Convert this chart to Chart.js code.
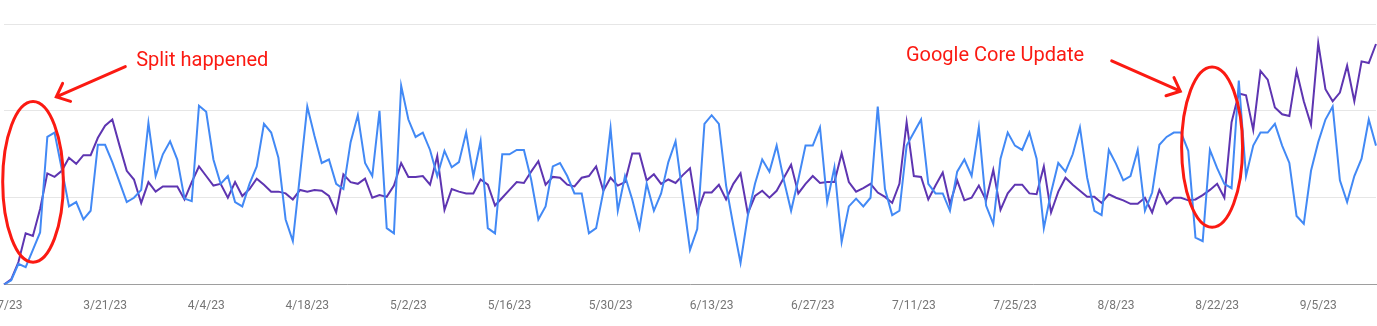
<!DOCTYPE html>
<html lang="en">
<head>
  <meta charset="UTF-8" />
  <title>Clicks vs impressions</title>
  <script src="https://cdn.jsdelivr.net/npm/chart.js"></script>
  <style>
    html, body { margin: 0; padding: 0; background: #fff; overflow: hidden; }
    body { width: 1377px; height: 326px; position: relative; }
    #wrap { position: absolute; left: -36px; top: 0; width: 1452px; height: 339px; }
  </style>
</head>
<body>
  <div id="wrap"><canvas id="chart"></canvas></div>

  <script>
    // daily points, first day 3/7/23
    const startDate = new Date(2023, 2, 7);
    const tickLabels = ['3/7/23', '3/21/23', '4/4/23', '4/18/23', '5/2/23', '5/16/23', '5/30/23',
      '6/13/23', '6/27/23', '7/11/23', '7/25/23', '8/8/23', '8/22/23', '9/5/23'];

    const blueValues = [
      0, 5, 24, 20, 40, 60, 170, 175, 133, 90, 95, 75, 85, 161, 161, 141, 118, 95, 100, 109,
      186, 125, 150, 165, 144, 99, 96, 206, 199, 144, 116, 125, 95, 90, 116, 136, 185, 175, 146, 75,
      50, 127, 205, 171, 140, 144, 116, 110, 164, 195, 140, 125, 200, 65, 59, 229, 190, 170, 175, 155,
      125, 154, 135, 141, 175, 125, 165, 65, 59, 150, 150, 155, 155, 121, 75, 90, 136, 140, 125, 105,
      105, 59, 65, 107, 180, 85, 125, 98, 65, 116, 85, 105, 141, 165, 102, 40, 64, 185, 195, 185,
      114, 68, 25, 79, 116, 144, 130, 160, 120, 85, 121, 160, 160, 181, 95, 135, 49, 90, 99, 90,
      100, 205, 110, 80, 85, 160, 175, 190, 116, 105, 105, 85, 130, 144, 125, 181, 91, 70, 145, 175,
      160, 155, 175, 145, 65, 106, 140, 130, 150, 181, 123, 85, 80, 155, 139, 120, 125, 155, 85, 106,
      161, 170, 175, 175, 154, 54, 50, 155, 134, 116, 111, 235, 125, 160, 175, 175, 185, 160, 140, 79,
      70, 131, 164, 190, 205, 120, 95, 125, 145, 190, 160
    ];

    const purpleValues = [
      0, 6, 26, 59, 56, 87, 128, 124, 131, 146, 139, 149, 149, 169, 183, 190, 160, 131, 121, 94,
      118, 107, 113, 113, 113, 98, 118, 136, 125, 114, 116, 100, 118, 102, 110, 122, 115, 107, 107, 105,
      98, 109, 107, 109, 108, 102, 83, 127, 118, 116, 122, 100, 103, 101, 114, 140, 124, 124, 125, 115,
      148, 86, 110, 107, 105, 105, 121, 115, 91, 100, 109, 118, 117, 130, 142, 115, 124, 123, 115, 113,
      123, 125, 136, 108, 123, 114, 118, 151, 151, 120, 127, 116, 121, 117, 126, 134, 83, 106, 106, 115,
      98, 116, 128, 82, 102, 108, 100, 108, 123, 138, 105, 116, 125, 117, 118, 118, 151, 118, 107, 111,
      116, 106, 101, 94, 116, 187, 125, 124, 98, 114, 129, 93, 120, 97, 100, 114, 97, 132, 86, 105,
      115, 115, 105, 104, 136, 83, 107, 123, 115, 108, 101, 101, 94, 104, 100, 97, 93, 93, 100, 83,
      109, 93, 100, 100, 97, 98, 103, 109, 116, 100, 187, 220, 218, 178, 246, 236, 204, 196, 194, 246,
      211, 184, 278, 225, 211, 221, 252, 211, 257, 255, 277
    ];

    const days = blueValues.map((_, i) => {
      const d = new Date(startDate);
      d.setDate(d.getDate() + i);
      return `${d.getMonth() + 1}/${d.getDate()}/${String(d.getFullYear()).slice(2)}`;
    });

    // hand drawn notes, placed in data units (day index, value)
    const noteTexts = [
      { text: 'Split happened', x: 18.3, y: 251.7 },
      { text: 'Google Core Update', x: 124.9, y: 257.5 }
    ];
    const noteRings = [
      { x: 4.02, y: 118.3, rx: 4.2, ry: 92.5 },
      { x: 167.3, y: 158.3, rx: 4.22, ry: 92.3 }
    ];
    const noteArrows = [
      { from: [16.8, 251], to: [7.24, 216.1] },
      { from: [153.4, 257.5], to: [162.9, 222.6] }
    ];

    const RED = '#fb1a12';

    const notesPlugin = {
      id: 'notes',
      afterDatasetsDraw(chart) {
        const { ctx, scales: { x, y } } = chart;
        ctx.save();
        ctx.strokeStyle = RED;
        ctx.fillStyle = RED;
        ctx.lineWidth = 3;
        ctx.lineCap = 'round';

        noteRings.forEach(r => {
          const cx = x.getPixelForValue(r.x);
          const cy = y.getPixelForValue(r.y);
          const rx = Math.abs(x.getPixelForValue(r.x + r.rx) - cx);
          const ry = Math.abs(y.getPixelForValue(r.y + r.ry) - cy);
          ctx.beginPath();
          ctx.ellipse(cx, cy, rx, ry, 0, 0, Math.PI * 2);
          ctx.stroke();
        });

        noteArrows.forEach(a => {
          const x1 = x.getPixelForValue(a.from[0]), y1 = y.getPixelForValue(a.from[1]);
          const x2 = x.getPixelForValue(a.to[0]), y2 = y.getPixelForValue(a.to[1]);
          const ang = Math.atan2(y1 - y2, x1 - x2);
          const len = 15, spread = 0.72;
          ctx.beginPath();
          ctx.moveTo(x1, y1);
          ctx.lineTo(x2, y2);
          ctx.moveTo(x2 + len * Math.cos(ang - spread), y2 + len * Math.sin(ang - spread));
          ctx.lineTo(x2, y2);
          ctx.lineTo(x2 + len * Math.cos(ang + spread), y2 + len * Math.sin(ang + spread));
          ctx.stroke();
        });

        ctx.font = '20px Roboto';
        ctx.textBaseline = 'alphabetic';
        ctx.textAlign = 'left';
        noteTexts.forEach(t => {
          ctx.fillText(t.text, x.getPixelForValue(t.x), y.getPixelForValue(t.y));
        });
        ctx.restore();
      }
    };

    new Chart(document.getElementById('chart').getContext('2d'), {
      type: 'line',
      data: {
        labels: days,
        datasets: [
          {
            label: 'Clicks',
            data: blueValues,
            borderColor: '#4289f5',
            borderWidth: 2,
            pointRadius: 0,
            tension: 0,
            fill: false
          },
          {
            label: 'Impressions',
            data: purpleValues,
            borderColor: '#5e35b1',
            borderWidth: 2,
            pointRadius: 0,
            tension: 0,
            fill: false
          }
        ]
      },
      options: {
        responsive: true,
        maintainAspectRatio: false,
        animation: false,
        layout: { padding: { left: 40, right: 40, top: 24, bottom: 12 } },
        plugins: {
          legend: { display: false },
          tooltip: { enabled: false }
        },
        scales: {
          x: {
            offset: false,
            grid: { display: false, drawTicks: false },
            border: { display: true, color: '#9e9e9e', width: 1 },
            ticks: {
              autoSkip: false,
              maxRotation: 0,
              padding: 14,
              color: '#757575',
              font: { family: 'Roboto', size: 12 },
              callback: function (val, i) {
                const lbl = this.getLabelForValue(val);
                return tickLabels.includes(lbl) ? lbl : '';
              }
            }
          },
          y: {
            min: 0,
            max: 300,
            ticks: { display: false, stepSize: 100 },
            grid: { color: '#e6e6e6', drawTicks: false },
            border: { display: false }
          }
        }
      },
      plugins: [notesPlugin]
    });
  </script>
</body>
</html>
